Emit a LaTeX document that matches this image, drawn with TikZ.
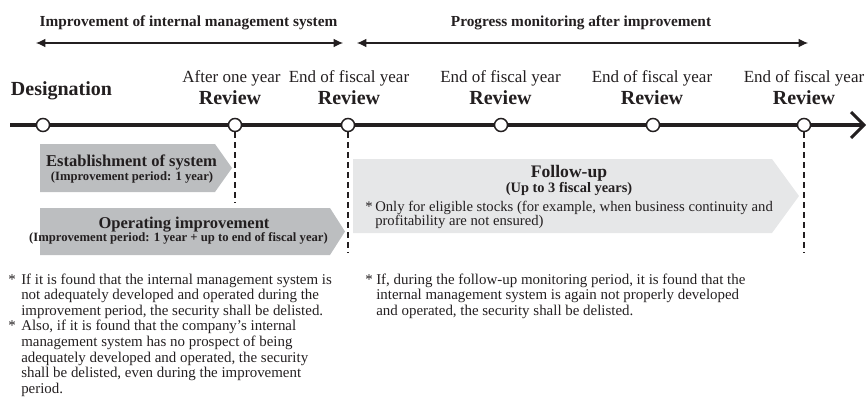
\documentclass[tikz,border=0pt]{standalone}
\usepackage{fontspec}
\setmainfont{Liberation Serif}
\usetikzlibrary{arrows.meta}
\definecolor{ink}{HTML}{231F20}
\definecolor{boxgray}{HTML}{BCBEC0}
\definecolor{paleGray}{HTML}{E6E7E8}
\begin{document}
\begin{tikzpicture}[x=0.75pt,y=-0.75pt,
  every node/.style={text=ink, inner sep=0pt},
  headtxt/.style={font=\fontsize{11.5}{13}\selectfont\bfseries, anchor=base},
  whentxt/.style={font=\fontsize{12.75}{14}\selectfont, anchor=base},
  revtxt/.style={font=\fontsize{15}{17}\selectfont\bfseries, anchor=base},
  boxtitle/.style={font=\fontsize{12.4}{14}\selectfont\bfseries, anchor=base},
  boxsub/.style={font=\fontsize{9.5}{11}\selectfont\bfseries, anchor=base},
  futitle/.style={font=\fontsize{13.2}{15}\selectfont\bfseries, anchor=base},
  fusub/.style={font=\fontsize{10.8}{12}\selectfont\bfseries, anchor=base},
  notetxt/.style={font=\fontsize{11.2}{11.7}\selectfont, anchor=base west},
  funote/.style={font=\fontsize{11}{10.5}\selectfont, anchor=base west},
  span/.style={draw=ink, line width=0.8pt, {Latex[length=7pt,width=6.5pt]}-{Latex[length=7pt,width=6.5pt]}},
  timeline/.style={draw=ink, line width=2.3pt},
  milestone/.style={circle, draw=ink, fill=white, line width=1.1pt, minimum size=9.8pt},
  dashline/.style={draw=ink, line width=1.2pt, dash pattern=on 4.5pt off 3pt}
]
\useasboundingbox (0,0) rectangle (866,404);

% top headings and spans
\node[headtxt] (h1) at (188.5,26) {Improvement of internal management system};
\node[headtxt] (h2) at (581,26) {Progress monitoring after improvement};
\coordinate (s1l) at (36,43);
\coordinate (s1r) at (343,43);
\coordinate (s2l) at (357,43);
\coordinate (s2r) at (808,43);
\draw[span] (s1l) -- (s1r);
\draw[span] (s2l) -- (s2r);

% milestone labels
\node[revtxt] (desig) at (61.5,95) {Designation};
\node[whentxt] (w1) at (231.5,82) {After one year};
\node[revtxt] (r1) at (230,104) {Review};
\node[whentxt] (w2) at (349,82) {End of fiscal year};
\node[revtxt] (r2) at (349,104) {Review};
\node[whentxt] (w3) at (500.5,82) {End of fiscal year};
\node[revtxt] (r3) at (500.5,104) {Review};
\node[whentxt] (w4) at (652,82) {End of fiscal year};
\node[revtxt] (r4) at (652,104) {Review};
\node[whentxt] (w5) at (804,82) {End of fiscal year};
\node[revtxt] (r5) at (804,104) {Review};

% boxes
\fill[boxgray] (40,144) -- (215,144) -- (232,168) -- (215,192) -- (40,192) -- cycle;
\fill[boxgray] (40,208) -- (330,208) -- (345,231.5) -- (330,255) -- (40,255) -- cycle;
\fill[paleGray] (353,159) -- (772,159) -- (799,196) -- (772,233) -- (353,233) -- cycle;

% timeline
\coordinate (tls) at (10,125);
\coordinate (tle) at (862,125);
\draw[timeline] (tls) -- (tle);
\draw[timeline, line join=miter] (851,112) -- (864,125) -- (851,138);

% dashed guides
\coordinate (g1) at (235,203);
\coordinate (g2) at (348,253);
\coordinate (g3) at (804,253);

\node[milestone] (m0) at (43,125) {};
\node[milestone] (m1) at (235,125) {};
\node[milestone] (m2) at (348,125) {};
\node[milestone] (m3) at (501,125) {};
\node[milestone] (m4) at (653,125) {};
\node[milestone] (m5) at (804,125) {};

\draw[dashline] (m1.south) -- (g1);
\draw[dashline] (m2.south) -- (g2);
\draw[dashline] (m5.south) -- (g3);

% box texts
\node[boxtitle] (b1t) at (131.5,166) {Establishment of system};
\node[boxsub] (b1s) at (132,180) {(Improvement period: 1 year)};
\node[boxtitle] (b2t) at (184,228) {Operating improvement};
\node[boxsub] (b2s) at (178.5,241) {(Improvement period: 1 year + up to end of fiscal year)};
\node[futitle] (fut) at (569,177) {Follow-up};
\node[fusub] (fus) at (569,192) {(Up to 3 fiscal years)};
\node[funote] (fun) at (365,211) {\begin{tabular}[t]{@{}p{7.5pt}@{}l@{}}
{*}&Only for eligible stocks (for example, when business continuity and\\
&profitability are not ensured)\end{tabular}};

% notes
\node[notetxt] (n1) at (8,284) {\begin{tabular}[t]{@{}p{9.75pt}@{}l@{}}
{*}&If it is found that the internal management system is\\
&not adequately developed and operated during the\\
&improvement period, the security shall be delisted.\\
{*}&Also, if it is found that the company’s internal\\
&management system has no prospect of being\\
&adequately developed and operated, the security\\
&shall be delisted, even during the improvement\\
&period.\end{tabular}};
\node[notetxt] (n2) at (365,284) {\begin{tabular}[t]{@{}p{8.25pt}@{}l@{}}
{*}&If, during the follow-up monitoring period, it is found that the\\
&internal management system is again not properly developed\\
&and operated, the security shall be delisted.\end{tabular}};
\end{tikzpicture}
\end{document}
